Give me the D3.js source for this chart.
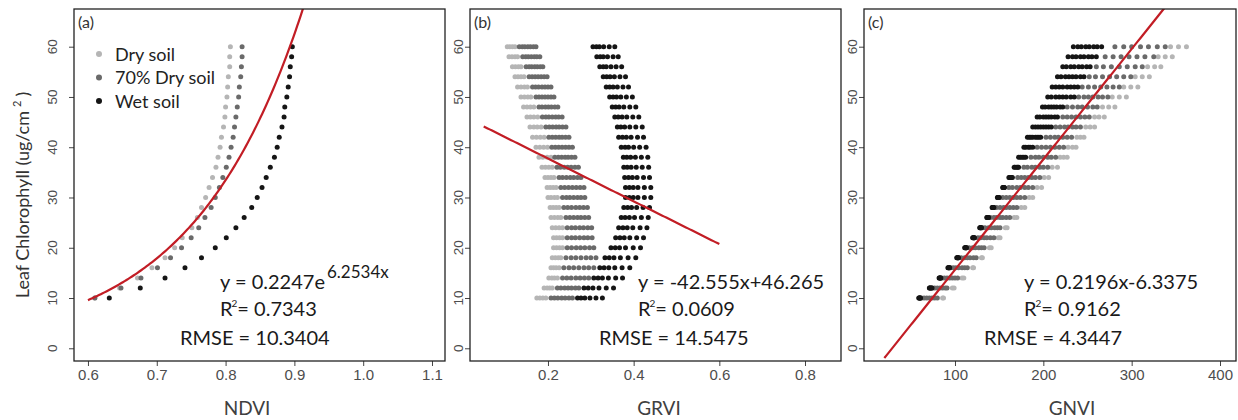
<!DOCTYPE html>
<html>
<head>
<meta charset="utf-8">
<script src="https://cdn.jsdelivr.net/npm/d3@7"></script>
<style>
  body { margin: 0; background: #fff; }
  svg { display: block; }
</style>
</head>
<body>
<svg id="chart" width="1238" height="420"></svg>
<script>
// Leaf chlorophyll levels (ug/cm2) shared by all three panels
const chlorophyll = [10, 12, 14, 16, 18, 20, 22, 24, 26, 28, 30, 32, 34, 36, 38, 40, 42, 44, 46, 48, 50, 52, 54, 56, 58, 60];
const yTicks = [0, 10, 20, 30, 40, 50, 60];
const seriesNames = ["Dry soil", "70% Dry soil", "Wet soil"];
const seriesColors = ["#b5b5b5", "#6a6a6a", "#151515"];

// (a) NDVI, one value per chlorophyll level
const ndviDry = [0.610, 0.646, 0.672, 0.693, 0.712, 0.726, 0.737, 0.751, 0.759, 0.765, 0.771, 0.776, 0.781, 0.786, 0.789, 0.792, 0.794, 0.797, 0.799, 0.800, 0.802, 0.803, 0.804, 0.806, 0.806, 0.807];
const ndvi70  = [0.610, 0.648, 0.677, 0.701, 0.720, 0.736, 0.750, 0.761, 0.770, 0.779, 0.785, 0.791, 0.796, 0.801, 0.805, 0.808, 0.811, 0.813, 0.815, 0.817, 0.819, 0.820, 0.822, 0.823, 0.824, 0.824];
const ndviWet = [0.631, 0.676, 0.712, 0.741, 0.765, 0.785, 0.801, 0.815, 0.827, 0.838, 0.846, 0.853, 0.859, 0.865, 0.871, 0.875, 0.878, 0.882, 0.885, 0.886, 0.889, 0.891, 0.893, 0.894, 0.896, 0.897];
const ndviTicks = [0.6, 0.7, 0.8, 0.9, 1.0, 1.1];

// (b) GRVI, several samples per chlorophyll level
const grviDry = [
  [0.174, 0.181, 0.188, 0.195], [0.191, 0.198, 0.204, 0.210], [0.202, 0.209, 0.215, 0.222], [0.207, 0.213, 0.219, 0.226],
  [0.210, 0.217, 0.224, 0.230], [0.213, 0.220, 0.227, 0.234], [0.213, 0.220, 0.227, 0.234], [0.210, 0.218, 0.226, 0.234],
  [0.207, 0.215, 0.223, 0.230], [0.205, 0.212, 0.219, 0.226], [0.200, 0.207, 0.215, 0.222], [0.198, 0.205, 0.212, 0.219],
  [0.193, 0.200, 0.207, 0.214], [0.186, 0.194, 0.202, 0.210], [0.179, 0.188, 0.198, 0.207], [0.172, 0.181, 0.190, 0.199],
  [0.164, 0.173, 0.182, 0.191], [0.158, 0.167, 0.175, 0.184], [0.151, 0.159, 0.167, 0.176], [0.143, 0.151, 0.159, 0.167],
  [0.137, 0.145, 0.153, 0.160], [0.129, 0.137, 0.145, 0.152], [0.123, 0.130, 0.137, 0.144], [0.117, 0.124, 0.131, 0.137],
  [0.109, 0.116, 0.123, 0.129], [0.105, 0.111, 0.117, 0.123]
];
const grvi70 = [
  [0.207, 0.215, 0.223, 0.232, 0.240, 0.249, 0.257], [0.222, 0.230, 0.239, 0.247, 0.255, 0.264, 0.272],
  [0.234, 0.244, 0.254, 0.265, 0.275, 0.285, 0.295], [0.237, 0.249, 0.260, 0.272, 0.284, 0.295, 0.307],
  [0.242, 0.254, 0.265, 0.277, 0.289, 0.300, 0.312], [0.245, 0.255, 0.266, 0.276, 0.286, 0.297, 0.307],
  [0.245, 0.255, 0.264, 0.274, 0.284, 0.293, 0.303], [0.245, 0.255, 0.264, 0.274, 0.283, 0.293, 0.302],
  [0.242, 0.251, 0.260, 0.269, 0.277, 0.286, 0.295], [0.237, 0.246, 0.255, 0.265, 0.274, 0.283, 0.292],
  [0.234, 0.243, 0.251, 0.260, 0.269, 0.277, 0.286], [0.230, 0.239, 0.248, 0.257, 0.266, 0.275, 0.284],
  [0.226, 0.234, 0.243, 0.252, 0.260, 0.269, 0.277], [0.221, 0.229, 0.238, 0.246, 0.254, 0.263, 0.271],
  [0.216, 0.224, 0.232, 0.240, 0.247, 0.255, 0.263], [0.209, 0.217, 0.225, 0.233, 0.241, 0.249, 0.257],
  [0.202, 0.210, 0.218, 0.226, 0.233, 0.241, 0.249], [0.195, 0.203, 0.211, 0.219, 0.226, 0.234, 0.242],
  [0.187, 0.195, 0.202, 0.210, 0.218, 0.225, 0.233], [0.179, 0.186, 0.194, 0.201, 0.208, 0.216, 0.223],
  [0.172, 0.179, 0.186, 0.193, 0.200, 0.207, 0.214], [0.164, 0.171, 0.178, 0.186, 0.193, 0.200, 0.207],
  [0.156, 0.163, 0.170, 0.177, 0.184, 0.191, 0.198], [0.149, 0.156, 0.162, 0.169, 0.175, 0.182, 0.188],
  [0.141, 0.148, 0.154, 0.161, 0.168, 0.174, 0.181], [0.133, 0.140, 0.146, 0.153, 0.159, 0.166, 0.172]
];
const grviWet = [
  [0.269, 0.277, 0.286, 0.298, 0.312, 0.327], [0.284, 0.294, 0.305, 0.319, 0.336, 0.353],
  [0.307, 0.317, 0.327, 0.341, 0.358, 0.374], [0.321, 0.331, 0.342, 0.356, 0.373, 0.391],
  [0.333, 0.343, 0.354, 0.369, 0.387, 0.405], [0.347, 0.357, 0.367, 0.381, 0.399, 0.416],
  [0.358, 0.368, 0.378, 0.391, 0.407, 0.423], [0.365, 0.375, 0.385, 0.398, 0.415, 0.431],
  [0.371, 0.380, 0.390, 0.402, 0.418, 0.434], [0.377, 0.386, 0.395, 0.407, 0.422, 0.437],
  [0.381, 0.390, 0.399, 0.410, 0.425, 0.440], [0.381, 0.390, 0.399, 0.410, 0.425, 0.440],
  [0.379, 0.388, 0.397, 0.408, 0.423, 0.437], [0.377, 0.385, 0.394, 0.406, 0.420, 0.435],
  [0.376, 0.384, 0.393, 0.404, 0.418, 0.433], [0.371, 0.380, 0.388, 0.400, 0.414, 0.429],
  [0.365, 0.374, 0.383, 0.394, 0.409, 0.423], [0.362, 0.370, 0.379, 0.391, 0.405, 0.420],
  [0.356, 0.364, 0.373, 0.384, 0.398, 0.412], [0.350, 0.358, 0.366, 0.377, 0.391, 0.405],
  [0.344, 0.352, 0.360, 0.370, 0.383, 0.397], [0.336, 0.344, 0.352, 0.362, 0.375, 0.388],
  [0.329, 0.337, 0.345, 0.355, 0.368, 0.381], [0.321, 0.329, 0.336, 0.347, 0.359, 0.372],
  [0.314, 0.322, 0.329, 0.339, 0.352, 0.364], [0.305, 0.313, 0.320, 0.330, 0.343, 0.356]
];
const grviTicks = [0.2, 0.4, 0.6, 0.8];

// (c) GNVI, several samples per chlorophyll level
const gnviDry = [
  [86, 87], [97, 99], [108, 110], [120, 121], [130, 131], [139, 141], [149, 151], [157, 159], [167, 170],
  [175, 179], [184, 188], [193, 198], [201, 206], [210, 216], [219, 223, 227], [228, 233, 237],
  [238, 242, 246], [248, 253, 258], [258, 263, 269], [267, 274, 281], [278, 286, 294], [291, 299, 307],
  [304, 312, 320], [318, 326, 333], [330, 338, 346], [344, 353, 362]
];
const gnvi70 = [
  [62, 65, 68, 71, 74, 77, 80], [74, 77, 80, 83, 86, 89, 91], [85, 88, 91, 94, 97, 100, 103],
  [95, 98, 101, 104, 108, 111, 114], [104, 107, 111, 114, 117, 121, 124], [113, 116, 120, 123, 127, 130, 133],
  [122, 126, 129, 133, 136, 140, 144], [131, 134, 138, 141, 145, 148, 151], [140, 144, 147, 151, 154, 158, 162],
  [147, 151, 155, 158, 162, 166, 170], [154, 158, 162, 166, 170, 174, 179], [161, 165, 170, 174, 179, 183, 188],
  [171, 175, 179, 183, 187, 191, 196], [178, 182, 187, 191, 196, 200, 205], [186, 191, 195, 200, 205, 209, 214],
  [193, 198, 203, 208, 213, 218, 223], [203, 208, 213, 217, 222, 227, 232], [214, 219, 224, 228, 233, 237, 242],
  [222, 227, 232, 237, 242, 247, 252], [227, 233, 239, 244, 250, 256, 261], [240, 246, 251, 256, 262, 267, 273],
  [244, 251, 258, 265, 272, 279, 286], [252, 259, 267, 275, 283, 291, 299], [260, 268, 277, 286, 295, 304, 312],
  [270, 279, 288, 297, 306, 315, 325], [281, 291, 300, 310, 319, 329, 338]
];
const gnviWet = [
  [59, 59.5, 60, 60.5, 61], [71, 71.5, 72, 73, 74], [82, 82.5, 83, 83.5, 84], [92, 92.5, 93, 93.5, 94],
  [102, 102.5, 103, 103.5, 104], [111, 111.5, 112, 112.5, 113], [120, 120.5, 121, 121.5, 122],
  [128, 128.5, 129, 129.5, 130], [136, 136.5, 137, 137.5, 138], [142, 142.5, 143, 143.5, 144],
  [148, 148.5, 149, 149.5, 150], [154, 154.5, 155, 155.5, 156], [161, 162, 163, 164, 165],
  [167, 168, 170, 171, 172], [172, 174, 176, 178, 180], [178, 180, 183, 185, 188],
  [182, 184, 186, 188, 191, 193, 195, 197], [188, 191, 194, 197, 200, 203, 206, 209],
  [193, 196, 200, 203, 206, 209, 213, 216], [199, 202, 206, 209, 212, 215, 219, 222],
  [205, 209, 214, 218, 222, 226, 231, 235], [210, 214, 218, 222, 227, 231, 235, 239],
  [216, 220, 225, 229, 233, 237, 242, 246], [222, 226, 231, 235, 240, 244, 249, 253],
  [228, 233, 237, 242, 246, 251, 255, 260], [234, 239, 243, 248, 252, 257, 261, 266]
];
const gnviTicks = [100, 200, 300, 400];

// Fitted trend lines and their statistics
const fitNdvi = { type: "exp", a: 0.2247, b: 6.2534, from: 0.6, to: 0.92 };
const fitGrvi = { type: "linear", slope: -42.555, intercept: 46.265, from: 0.05, to: 0.6 };
const fitGnvi = { type: "linear", slope: 0.2196, intercept: -6.3375, from: 20, to: 345 };
const statsNdvi = { eq: "y = 0.2247e", sup: "6.2534x", r2: "0.7343", rmse: "10.3404" };
const statsGrvi = { eq: "y = -42.555x+46.265", sup: "", r2: "0.0609", rmse: "14.5475" };
const statsGnvi = { eq: "y = 0.2196x-6.3375", sup: "", r2: "0.9162", rmse: "4.3447" };

const svg = d3.select("#chart");
const TOP = 9, BOTTOM = 361;
const TEXT_FONT = "Lato, 'Open Sans', sans-serif";
const TICK_FONT = "'Liberation Sans', Arial, sans-serif";

const y = d3.scaleLinear().domain([-2.53, 67.5]).range([BOTTOM, TOP]);

const panels = [
  { key: "a", label: "(a)", title: "NDVI", left: 74, right: 445, domain: [0.5797, 1.1189],
    ticks: ndviTicks, fmt: d3.format(".1f"), series: [ndviDry, ndvi70, ndviWet], fit: fitNdvi, stats: statsNdvi,
    labelGap: 17, titleX: 247, eqX: 220, rmseX: 180, legend: true },
  { key: "b", label: "(b)", title: "GRVI", left: 470, right: 841, domain: [0.018, 0.884],
    ticks: grviTicks, fmt: d3.format(".1f"), series: [grviDry, grvi70, grviWet], fit: fitGrvi, stats: statsGrvi,
    labelGap: 7, titleX: 659, eqX: 638, rmseX: 599, legend: false },
  { key: "c", label: "(c)", title: "GNVI", left: 864, right: 1236, domain: [-3, 418.1],
    ticks: gnviTicks, fmt: d3.format("d"), series: [gnviDry, gnvi70, gnviWet], fit: fitGnvi, stats: statsGnvi,
    labelGap: 7, titleX: 1072, eqX: 1024, rmseX: 984, legend: false }
];

function toPoints(arr) {
  const pts = [];
  arr.forEach((row, i) => {
    const vals = Array.isArray(row) ? row : [row];
    vals.forEach(v => pts.push({ x: v, y: chlorophyll[i] }));
  });
  return pts;
}

function fitValue(fit, xv) {
  return fit.type === "exp" ? fit.a * Math.exp(fit.b * xv) : fit.slope * xv + fit.intercept;
}

panels.forEach(p => {
  const x = d3.scaleLinear().domain(p.domain).range([p.left, p.right]);
  const g = svg.append("g").attr("class", "panel-" + p.key);

  g.append("clipPath").attr("id", "clip-" + p.key)
    .append("rect").attr("x", p.left).attr("y", TOP).attr("width", p.right - p.left).attr("height", BOTTOM - TOP);

  // axes (tick marks; y labels drawn rotated below)
  const xAxis = g.append("g").attr("transform", `translate(0,${BOTTOM})`)
    .call(d3.axisBottom(x).tickValues(p.ticks).tickFormat(p.fmt).tickSize(5).tickPadding(3));
  xAxis.select(".domain").remove();
  xAxis.selectAll("line").attr("stroke", "#444");
  xAxis.selectAll("text").attr("fill", "#4d4d4d").style("font-family", TICK_FONT).style("font-size", "15px");

  const yAxis = g.append("g").attr("transform", `translate(${p.left},0)`)
    .call(d3.axisLeft(y).tickValues(yTicks).tickFormat("").tickSize(5));
  yAxis.select(".domain").remove();
  yAxis.selectAll("line").attr("stroke", "#444");

  g.selectAll(".ylab").data(yTicks).join("text").attr("class", "ylab")
    .attr("transform", d => `translate(${p.left - p.labelGap},${y(d)}) rotate(-90)`)
    .attr("text-anchor", "middle")
    .attr("fill", "#4d4d4d").style("font-family", TICK_FONT).style("font-size", "13.5px")
    .text(d => d);

  // scatter points: dry, 70% dry, wet (wet on top)
  const dots = g.append("g").attr("clip-path", `url(#clip-${p.key})`);
  p.series.forEach((s, si) => {
    dots.append("g").selectAll("circle").data(toPoints(s)).join("circle")
      .attr("cx", d => x(d.x)).attr("cy", d => y(d.y)).attr("r", 2.5)
      .attr("fill", seriesColors[si]);
  });

  // trend line
  const fitX = d3.range(p.fit.from, p.fit.to + 1e-9, (p.fit.to - p.fit.from) / 120);
  const line = d3.line().x(d => x(d)).y(d => y(fitValue(p.fit, d)));
  g.append("path").attr("clip-path", `url(#clip-${p.key})`)
    .datum(fitX).attr("d", line)
    .attr("fill", "none").attr("stroke", "#c21d25").attr("stroke-width", 2.2);

  // frame
  g.append("rect").attr("x", p.left).attr("y", TOP)
    .attr("width", p.right - p.left).attr("height", BOTTOM - TOP)
    .attr("fill", "none").attr("stroke", "#222").attr("stroke-width", 1.3);

  // panel tag
  g.append("text").attr("x", p.left + 4).attr("y", 28)
    .style("font-family", TEXT_FONT).style("font-size", "16px").attr("fill", "#333").text(p.label);

  // x-axis title
  g.append("text").attr("x", p.titleX).attr("y", 415).attr("text-anchor", "middle")
    .style("font-family", TEXT_FONT).style("font-size", "19px").attr("fill", "#404040").text(p.title);

  // fit statistics
  const eq = g.append("text").attr("x", p.eqX).attr("y", 289)
    .style("font-family", TEXT_FONT).style("font-size", "20px").attr("fill", "#1a1a1a");
  eq.append("tspan").text(p.stats.eq);
  if (p.stats.sup) {
    eq.append("tspan").attr("dx", 2).attr("dy", -11).style("font-size", "17px").text(p.stats.sup);
  }
  const r2 = g.append("text").attr("x", p.eqX).attr("y", 316)
    .style("font-family", TEXT_FONT).style("font-size", "20px").attr("fill", "#1a1a1a");
  r2.append("tspan").text("R");
  r2.append("tspan").attr("dx", -1).attr("dy", -9).style("font-size", "10px").text("2");
  r2.append("tspan").attr("dy", 9).text("= " + p.stats.r2);
  g.append("text").attr("x", p.rmseX).attr("y", 345)
    .style("font-family", TEXT_FONT).style("font-size", "20px").attr("fill", "#1a1a1a")
    .text("RMSE = " + p.stats.rmse);

  // legend
  if (p.legend) {
    const lg = g.append("g");
    seriesNames.forEach((name, i) => {
      lg.append("circle").attr("cx", 99).attr("cy", 54 + i * 23.5).attr("r", 3).attr("fill", seriesColors[i]);
      lg.append("text").attr("x", 115).attr("y", 60.5 + i * 23.5)
        .style("font-family", TEXT_FONT).style("font-size", "18px").attr("fill", "#222").text(name);
    });
  }
});

// shared y-axis title
const yt = svg.append("text").attr("transform", "translate(29,195) rotate(-90)").attr("text-anchor", "middle")
  .style("font-family", TEXT_FONT).style("font-size", "18px").attr("fill", "#333");
yt.append("tspan").text("Leaf Chlorophyll (ug/cm");
yt.append("tspan").attr("dx", 4).attr("dy", -8).style("font-size", "11px").text("2");
yt.append("tspan").attr("dx", 4).attr("dy", 8).text(")");
</script>
</body>
</html>
